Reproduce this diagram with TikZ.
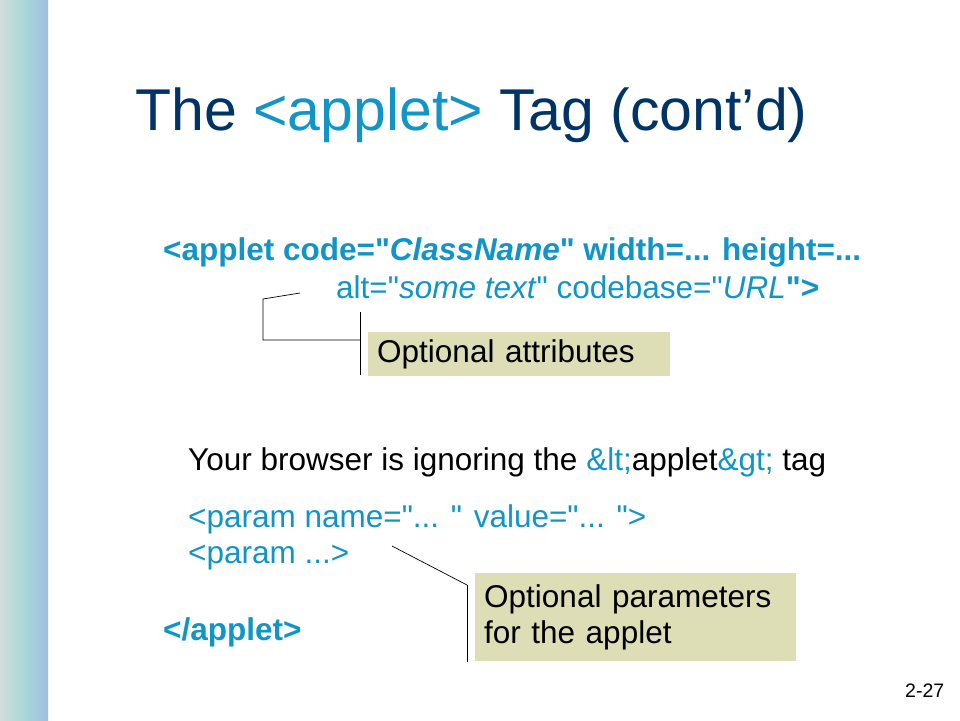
\documentclass[tikz,border=0pt]{standalone}
\usepackage{fontspec}
\setmainfont{Liberation Sans}
\usetikzlibrary{positioning}
\definecolor{titlenavy}{HTML}{003466}
\definecolor{tagblue}{HTML}{1195C6}
\definecolor{notefill}{HTML}{DDDDB6}
\definecolor{stripleft}{HTML}{D3DDDB}
\definecolor{stripmid}{HTML}{A9D8D9}
\definecolor{stripright}{HTML}{9FBEDD}
\newcommand*{\dq}{\textquotedbl}

\begin{document}
\begin{tikzpicture}[x=1pt, y=-1pt,
    title_text/.style ={anchor=base west, inner sep=0pt, text=titlenavy,
      font=\fontsize{59}{64}\selectfont},
    code_text/.style ={anchor=base west, inner sep=0pt, text=tagblue,
      font=\fontsize{31.5}{36}\selectfont},
    plain_text/.style ={anchor=base west, inner sep=0pt, text=black,
      font=\fontsize{31.5}{36}\selectfont},
    note_box/.style ={rectangle, draw=none, fill=notefill, anchor=north west,
      font=\fontsize{31.5}{36}\selectfont, align=left, inner xsep=9pt},
    line/.style ={draw, black, line width=0.7pt}]
    % background
    \useasboundingbox (0,0) rectangle (960,720);
    \fill[white] (0,0) rectangle (960,720);
    \shade[left color=stripleft, right color=stripright, middle color=stripmid]
      (0,0) rectangle (48,720);
    % title
    \node [title_text] (title) at (135,130) {The \textcolor{tagblue}{<applet>} Tag (cont'd)};
    % applet tag
    \node [code_text, font=\fontsize{31.5}{36}\selectfont\bfseries] (open1) at (163,260)
      {<applet code=\dq\textit{ClassName}\dq{} width=... height=...};
    \node [code_text] (open2) at (336,298)
      {alt=\dq\textit{some text}\dq{} codebase=\dq\textit{URL}\textbf{\dq>}};
    \node [note_box, text width=284pt, inner ysep=7pt] (attrnote) at (368,332)
      {Optional attributes};
    % body
    \node [plain_text] (ignore) at (188,470)
      {Your browser is ignoring the \textcolor{tagblue}{\&lt;}applet\textcolor{tagblue}{\&gt;} tag};
    \node [code_text] (param1) at (188,527) {<param name=\dq... \dq{} value=\dq... \dq>};
    \node [code_text] (param2) at (188,563) {<param ...>};
    \node [code_text, font=\fontsize{31.5}{36}\selectfont\bfseries] (close) at (163,640) {</applet>};
    \node [note_box, text width=303pt, inner ysep=11pt] (paramnote) at (475,573)
      {Optional parameters\\for the applet};
    % page number
    \node [plain_text, font=\fontsize{19.5}{22}\selectfont] (pagenum) at (905,697) {2-27};
    % connecting lines
    \coordinate (attrtip) at (300,293);
    \coordinate (attrcorner) at (263,299);
    \coordinate (attrfoot) at (263,340);
    \coordinate (attrtop) at (360,312);
    \coordinate (attrbot) at (360,375);
    \coordinate (paramtip) at (392,546);
    \coordinate (paramtop) at (467,585);
    \coordinate (parambot) at (467,662);
    \begin{scope}[every path/.style=line]
      \path (attrtip) -- (attrcorner) -- (attrfoot) -- (attrfoot -| attrtop);
      \path (attrtop) -- (attrbot);
      \path (paramtip) -- (paramtop);
      \path (paramtop) -- (parambot);
    \end{scope}
  \end{tikzpicture}
\end{document}
